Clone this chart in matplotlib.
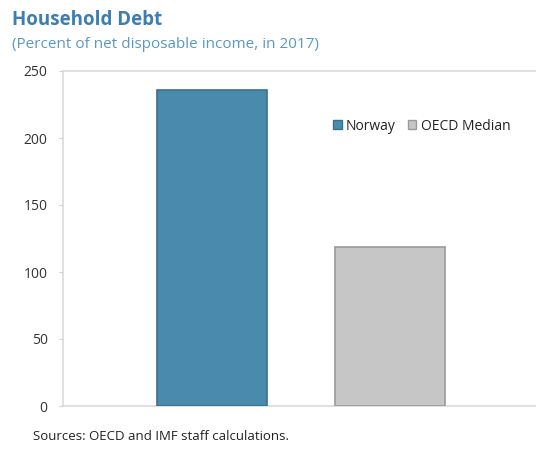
from matplotlib import pyplot as plt
from matplotlib.patches import Patch

categories = ["Norway", "OECD Median"]
values = [236, 119]
yticks = [0, 50, 100, 150, 200, 250]

plt.rcParams["font.family"] = ["Open Sans", "DejaVu Sans"]

fig = plt.figure(figsize=(5.36, 4.53), dpi=100)
ax = fig.add_axes([63 / 536, 1 - 406 / 453, 1 - 63 / 536, 335 / 453])

colors = ["#4A8BAD", "#C6C6C6"]
edges = ["#3C6F8C", "#9A9A9A"]
x = list(range(len(categories)))
ax.bar(x, values, width=0.62, color=colors, edgecolor=edges, linewidth=1.2, zorder=3)

ax.set_xlim(-0.84, 1.82)
ax.set_ylim(0, 250)
ax.set_yticks(yticks)
ax.set_xticks([])
ax.tick_params(axis="y", length=3, color="#D0D0D0", labelsize=10, labelcolor="#333333", pad=8)
for s in ["left", "top", "bottom"]:
    ax.spines[s].set_color("#DADADA")
    ax.spines[s].set_linewidth(1.2)
ax.spines["right"].set_visible(False)

handles = [Patch(facecolor=c, edgecolor=e, label=l) for c, e, l in zip(colors, edges, categories)]
ax.legend(handles=handles, loc="upper left", bbox_to_anchor=(0.545, 0.895), ncol=2, frameon=False,
          fontsize=10, handlelength=0.6, handleheight=0.6, handletextpad=0.3, columnspacing=0.9,
          labelcolor="#222222")

fig.text(12 / 536, 1 - 20 / 453, "Household Debt", fontsize=13.5, fontweight="bold", color="#3D7DB0", va="center")
fig.text(12 / 536, 1 - 44 / 453, "(Percent of net disposable income, in 2017)", fontsize=11, color="#5A98C6", va="center")
fig.text(33 / 536, 1 - 437 / 453, "Sources: OECD and IMF staff calculations.", fontsize=9.5, color="#222222", va="center")

fig.savefig("out.png", dpi=100)
